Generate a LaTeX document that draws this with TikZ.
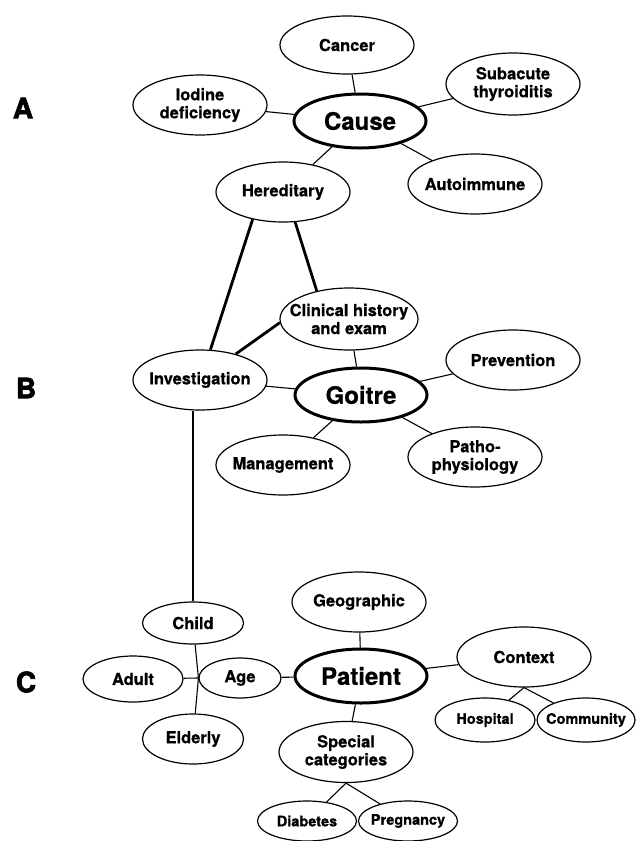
\documentclass[tikz,border=0pt]{standalone}
\usepackage{fontspec}
\setmainfont{TeX Gyre Heros}[BoldFeatures={FakeBold=0.7}]
\newfontfamily\tagfont{TeX Gyre Heros}[BoldFeatures={FakeBold=2.5}]
\usepackage{tikz}
\usetikzlibrary{shapes.geometric}
\definecolor{ink}{HTML}{000000}
\tikzset{
  bub/.style={ellipse, draw=ink, line width=1.2pt, minimum width=134pt, minimum height=60pt, inner xsep=-25pt, inner ysep=0pt, align=center, text=ink, font=\bfseries\fontsize{16.5}{18}\selectfont},
  sbub/.style={bub, minimum width=100pt, minimum height=44pt, font=\bfseries\fontsize{14.5}{16}\selectfont},
  hub/.style={bub, line width=3pt, minimum width=132pt, minimum height=54pt, font=\bfseries\fontsize{24}{26}\selectfont},
  con/.style={draw=ink, line width=1.1pt},
  thk/.style={draw=ink, line width=2.8pt},
  tag/.style={inner sep=0pt, text=ink, font=\tagfont\bfseries\fontsize{28}{28}\selectfont},
}

\begin{document}
\begin{tikzpicture}[x=1pt, y=-1pt]
    \useasboundingbox (0,0) rectangle (643,841);

    % A: causa
    \node[tag] (ta) at (23,108) {A};
    \node[hub] (cause) at (360,121) {Cause};
    \node[bub, minimum height=58pt] (cancer) at (347,45) {Cancer};
    \node[bub] (iodine) at (200,105) {Iodine\\deficiency};
    \node[bub, minimum height=62pt] (subacute) at (513,84) {Subacute\\thyroiditis};
    \node[bub] (autoimmune) at (475,184) {Autoimmune};
    \node[bub] (hereditary) at (283,192) {Hereditary};
    \foreach \n in {cancer,iodine,subacute,autoimmune,hereditary}{
      \draw[con] (cause) -- (\n);
    }

    % B: goitre
    \node[tag] (tb) at (26,388) {B};
    \node[hub] (goitre) at (361,395) {Goitre};
    \node[bub, minimum width=138pt, minimum height=62pt] (clinical) at (349,319) {Clinical history\\and exam};
    \node[bub] (investigation) at (200,380) {Investigation};
    \node[bub] (prevention) at (513,360) {Prevention};
    \node[bub] (management) at (283,465) {Management};
    \node[bub] (patho) at (475,457) {Patho-\\physiology};
    \foreach \n in {clinical,investigation,prevention,management,patho}{
      \draw[con] (goitre) -- (\n);
    }

    % C: paciente
    \node[tag] (tc) at (26,682) {C};
    \node[hub] (patient) at (361,676) {Patient};
    \node[bub] (geographic) at (359,602) {Geographic};
    \node[bub, minimum width=101pt, minimum height=42pt] (child) at (193,623) {Child};
    \node[bub, minimum width=100pt, minimum height=46pt] (adult) at (133,679) {Adult};
    \node[bub, minimum width=82pt, minimum height=40pt] (age) at (240,678) {Age};
    \node[bub, minimum width=101pt, minimum height=50pt] (elderly) at (193,739) {Elderly};
    \node[bub] (context) at (524,657) {Context};
    \node[sbub] (hospital) at (485,720) {Hospital};
    \node[sbub, minimum width=98pt] (community) at (586,720) {Community};
    \node[bub, minimum height=61pt] (special) at (346,752) {Special\\categories};
    \node[sbub, minimum width=99pt, minimum height=40pt] (diabetes) at (307,821) {Diabetes};
    \node[sbub, minimum width=99pt, minimum height=40pt] (pregnancy) at (408,821) {Pregnancy};
    \foreach \n in {geographic,age,context,special}{
      \draw[con] (patient) -- (\n);
    }
    \foreach \n in {child,adult,elderly}{ \draw[con] (\n) -- (age.west); }
    \foreach \n in {hospital,community}{ \draw[con] (context.south) -- (\n); }
    \foreach \n in {diabetes,pregnancy}{ \draw[con] (special.south) -- (\n); }

    % enlaces gruesos
    \draw[thk] (hereditary.-138) -- (investigation.71);
    \draw[thk] (hereditary.-68) -- (clinical.139);
    \draw[thk] (investigation.36) -- (clinical.183);
    \draw[thk] (investigation.south -| child.north) -- (child.north);
\end{tikzpicture}
\end{document}
